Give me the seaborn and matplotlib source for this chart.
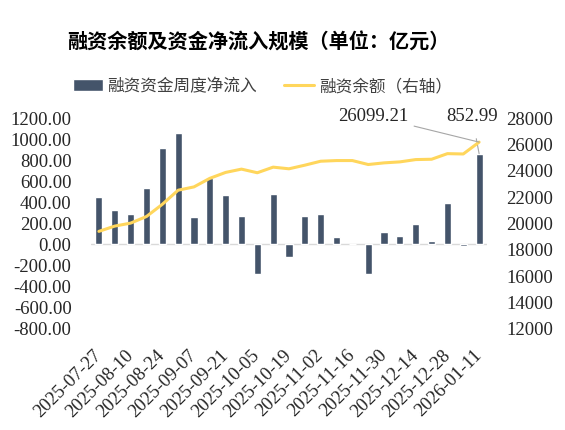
import numpy as np
import pandas as pd
import matplotlib
matplotlib.use("Agg")
import matplotlib.pyplot as plt
import seaborn as sns
from matplotlib.patches import Patch
from matplotlib.lines import Line2D

# 数据（单位：亿元）
dates = pd.date_range("2025-07-27", "2026-01-11", freq="7D").strftime("%Y-%m-%d").tolist()
net_flow = [439, 322, 284, 524, 903, 1049, 256, 626, 464, 262,
            -291, 468, -128, 265, 284, 66, -5, -291, 114, 76,
            190, 28, 385, -22, 852.99]
balance = [19325, 19725, 19950, 20450, 21375, 22450, 22700, 23350, 23800, 24050,
           23775, 24200, 24075, 24350, 24650, 24700, 24700, 24400, 24525, 24600,
           24775, 24800, 25225, 25200, 26099.21]
tick_labels = dates[::2]

df = pd.DataFrame({"date": dates, "flow": net_flow, "balance": balance})

sns.set_style("white")
plt.rcParams["font.family"] = ["Liberation Serif", "Noto Sans CJK SC"]
plt.rcParams["axes.unicode_minus"] = False

bar_color = "#44546A"
line_color = "#FFD65C"
text_color = "#262626"

fig = plt.figure(figsize=(5.65, 4.31), dpi=100)
ax = fig.add_axes([0.161, 0.237, 0.701, 0.489])

sns.barplot(data=df, x="date", y="flow", color=bar_color, width=0.45,
            saturation=1, ax=ax)
ax.axhline(0, color="#D9D9D9", lw=1, zorder=0)

ax2 = ax.twinx()
sns.lineplot(x=np.arange(len(df)), y=df["balance"], color=line_color, lw=2.2, ax=ax2)

ax.set_xlim(-0.5, len(df) - 0.5)
ax.set_ylim(-800, 1200)
ax.set_yticks(np.arange(-800, 1201, 200))
ax.set_yticklabels([f"{v:.2f}" for v in np.arange(-800, 1201, 200)])
ax2.set_ylim(12000, 28000)
ax2.set_yticks(np.arange(12000, 28001, 2000))

ax.set_xticks(range(0, len(df), 2))
ax.set_xticklabels(tick_labels, rotation=45, ha="right", va="center",
                   rotation_mode="anchor")
ax.set_xlabel("")
ax.set_ylabel("")
ax2.set_ylabel("")

for a in (ax, ax2):
    for s in a.spines.values():
        s.set_visible(False)
    a.tick_params(length=0, labelsize=13.5, colors=text_color)
ax.tick_params(axis="y", pad=14)
ax.tick_params(axis="x", pad=17)
ax2.tick_params(axis="y", pad=14)

# 标注最新值（figure pixels 以左下角为原点）
last = len(df) - 1
ax2.annotate(f"{balance[-1]:.2f}", xy=(last, balance[-1]), xytext=(373, 431 - 117),
             textcoords="figure pixels", ha="center", va="center", fontsize=13.5,
             color=text_color,
             arrowprops=dict(arrowstyle="-", color="#A6A6A6", lw=0.8, shrinkA=2, shrinkB=0))
ax.annotate(f"{net_flow[-1]:.2f}", xy=(last, net_flow[-1]), xytext=(472, 431 - 117),
            textcoords="figure pixels", ha="center", va="center", fontsize=13.5,
            color=text_color,
            arrowprops=dict(arrowstyle="-", color="#A6A6A6", lw=0.8, shrinkA=8, shrinkB=0))

fig.text(0.457, 1 - 42 / 431, "融资余额及资金净流入规模（单位：亿元）",
         ha="center", va="center", fontsize=14.5, fontweight="bold",
         family=["Noto Sans CJK SC"], color="black")

handles = [Patch(facecolor=bar_color, label="融资资金周度净流入"),
           Line2D([0], [0], color=line_color, lw=2.2, label="融资余额（右轴）")]
fig.legend(handles=handles, loc="center", bbox_to_anchor=(0.464, 1 - 87 / 431),
           ncol=2, frameon=False, handlelength=1.8, handletextpad=0.3,
           columnspacing=1.6, prop={"family": "Noto Sans CJK SC", "size": 12},
           labelcolor="#404040")

fig.savefig("out.png", dpi=100)
